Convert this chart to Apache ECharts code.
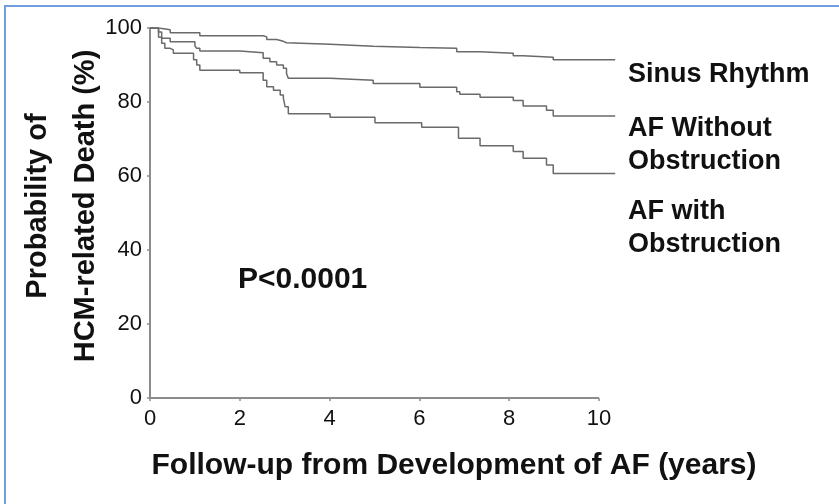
<!DOCTYPE html>
<html>
<head>
<meta charset="utf-8">
<script src="https://cdn.jsdelivr.net/npm/echarts@6/dist/echarts.min.js"></script>
<style>
  html, body { margin: 0; padding: 0; background: #fff; }
  #chart { width: 839px; height: 504px; }
</style>
</head>
<body>
<div id="chart"></div>
<script>
// follow-up time (years) and probability (%) for each curve
const sinusT = [0, 0.2, 0.45, 1.11, 2.52, 2.6, 2.82, 2.97, 3.04, 4.01, 4.97, 6.01, 6.83, 7.35, 8.09, 8.31, 8.98, 10.36];
const sinusV = [100, 99.5, 98.7, 97.9, 97.6, 96.9, 96.4, 96.0, 95.6, 95.1, 94.7, 94.5, 93.6, 93.2, 92.5, 92.1, 91.4, 91.4];

const noObstrT = [0, 0.19, 0.26, 0.45, 1.0, 1.04, 1.11, 2.0, 2.52, 2.67, 2.82, 2.97, 3.04, 3.08, 4.01, 4.97, 6.01, 6.83, 6.9, 7.35, 8.09, 8.31, 8.83, 8.98, 10.36];
const noObstrV = [100, 98.9, 97.2, 96.3, 95.2, 94.5, 93.8, 93.3, 91.8, 90.9, 90.0, 89.1, 87.7, 86.4, 85.9, 85.0, 84.0, 82.8, 82.1, 81.3, 80.4, 78.9, 77.8, 76.2, 76.2];

const obstrT = [0, 0.19, 0.26, 0.33, 0.45, 0.52, 0.97, 1.04, 1.11, 2.0, 2.52, 2.6, 2.75, 2.9, 2.97, 3.01, 3.08, 4.01, 5.01, 6.05, 6.87, 7.35, 8.09, 8.31, 8.83, 8.98, 10.36];
const obstrV = [100, 97.5, 95.9, 94.5, 94.1, 93.2, 91.4, 90.0, 88.6, 87.9, 85.9, 84.1, 83.2, 81.9, 81.0, 78.7, 76.8, 75.9, 74.4, 73.2, 70.2, 68.2, 66.6, 64.8, 63.0, 60.7, 60.7];

const seriesNames = ['Sinus Rhythm', 'AF Without\nObstruction', 'AF with\nObstruction'];
const xTicks = [0, 2, 4, 6, 8, 10];
const yTicks = [0, 20, 40, 60, 80, 100];
const xMax = 10.4; // curves run a little past the last tick

const font = 'Liberation Sans, Arial, sans-serif';
const curveColor = '#6a6a6a';
const axisColor = '#8c8c8c';

function pairs(t, v) {
  return t.map((x, i) => [x, v[i]]);
}

function curve(name, t, v) {
  return {
    name: name,
    type: 'line',
    step: 'end',
    symbol: 'none',
    silent: true,
    lineStyle: { color: curveColor, width: 1.5 },
    data: pairs(t, v)
  };
}

const myChart = echarts.init(document.getElementById('chart'), null, { renderer: 'canvas' });

const series = [
  curve(seriesNames[0], sinusT, sinusV),
  curve(seriesNames[1], noObstrT, noObstrV),
  curve(seriesNames[2], obstrT, obstrV)
];
// x axis line only from 0 to 10
series[0].markLine = {
  silent: true,
  symbol: 'none',
  label: { show: false },
  lineStyle: { color: axisColor, width: 2, type: 'solid' },
  data: [[{ coord: [xTicks[0], 0] }, { coord: [xTicks[xTicks.length - 1], 0] }]]
};

const option = {
  animation: false,
  backgroundColor: '#fff',
  textStyle: { fontFamily: font },
  grid: { left: 150, right: 222, top: 28, bottom: 106 },
  xAxis: {
    type: 'value',
    min: 0,
    max: xMax,
    axisLine: { show: false },
    axisTick: { show: true, length: 3, customValues: xTicks, lineStyle: { color: axisColor, width: 1.5 } },
    axisLabel: { fontSize: 22, color: '#111', margin: 10, fontFamily: font, customValues: xTicks },
    splitLine: { show: false }
  },
  yAxis: {
    type: 'value',
    min: yTicks[0],
    max: yTicks[yTicks.length - 1],
    interval: 20,
    axisLine: { show: true, lineStyle: { color: axisColor, width: 2 } },
    axisTick: { show: true, length: 3, lineStyle: { color: axisColor, width: 1.5 } },
    axisLabel: { fontSize: 22, color: '#111', margin: 8, fontFamily: font },
    splitLine: { show: false }
  },
  series: series,
  graphic: [
    {
      type: 'rect',
      silent: true,
      shape: { x: 5, y: 6, width: 1000, height: 1000 },
      style: { fill: 'none', stroke: '#6f9fe0', lineWidth: 2 }
    },
    {
      type: 'text', x: 628, y: 61,
      style: { text: seriesNames[0], font: 'bold 27px ' + font, fill: '#111', textVerticalAlign: 'alphabetic' }
    },
    {
      type: 'text', x: 628, y: 112,
      style: { text: seriesNames[1], font: 'bold 27px ' + font, fill: '#111', lineHeight: 33, textVerticalAlign: 'alphabetic' }
    },
    {
      type: 'text', x: 628, y: 195,
      style: { text: seriesNames[2], font: 'bold 27px ' + font, fill: '#111', lineHeight: 33, textVerticalAlign: 'alphabetic' }
    },
    {
      type: 'text', x: 238, y: 265,
      style: { text: 'P<0.0001', font: 'bold 30px ' + font, fill: '#111', textVerticalAlign: 'alphabetic' }
    },
    {
      type: 'text', x: 454, y: 466,
      style: { text: 'Follow-up from Development of AF (years)', font: 'bold 30px ' + font, fill: '#111', textAlign: 'center', textVerticalAlign: 'middle' }
    },
    {
      type: 'text', x: 62, y: 206, rotation: Math.PI / 2,
      style: { text: 'Probability of\nHCM-related Death (%)', font: 'bold 29px ' + font, fill: '#111', lineHeight: 48, textAlign: 'center', textVerticalAlign: 'middle' }
    }
  ]
};

option && myChart.setOption(option);
</script>
</body>
</html>
